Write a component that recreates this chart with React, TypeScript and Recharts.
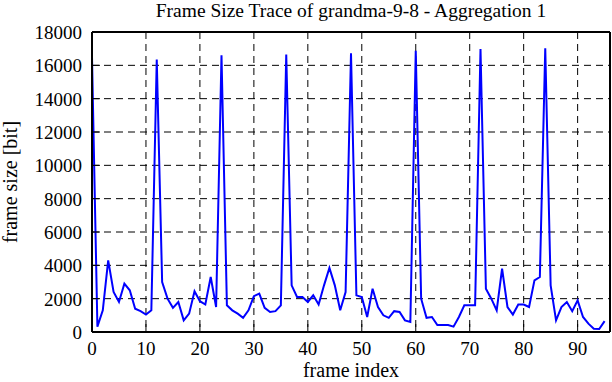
import { LineChart, Line, XAxis, YAxis, CartesianGrid } from 'recharts';

// --- Data ---
const frames: number[] = Array.from({ length: 96 }, (_, i) => i);

const frameSizes: number[] = [
  16500, 320, 1300, 4300, 2400, 1800, 2900, 2500, 1400, 1250,
  1050, 1300, 16350, 3000, 2000, 1450, 1800, 700, 1100, 2450,
  1850, 1650, 3300, 1500, 16600, 1600, 1300, 1100, 850, 1300,
  2150, 2300, 1450, 1200, 1250, 1600, 16650, 2800, 2100, 2100,
  1800, 2200, 1650, 2800, 3850, 2800, 1300, 2400, 16720, 2200,
  2100, 900, 2600, 1500, 1000, 850, 1250, 1200, 700, 600,
  16880, 2000, 850, 900, 420, 420, 420, 320, 900, 1600,
  1600, 1600, 16980, 2600, 2000, 1300, 3800, 1500, 1050, 1650,
  1650, 1500, 3100, 3300, 17020, 2800, 700, 1500, 1800, 1250,
  1900, 900, 500, 200, 180, 650,
];

const xTicks = [0, 10, 20, 30, 40, 50, 60, 70, 80, 90];
const yTicks = [0, 2000, 4000, 6000, 8000, 10000, 12000, 14000, 16000, 18000];

const title = 'Frame Size Trace of grandma-9-8 - Aggregation 1';

const data = frames.map((f, i) => ({ frame: f, size: frameSizes[i] }));

const FONT = '"Liberation Serif", "Times New Roman", serif';
const axisLine = { stroke: '#000', strokeWidth: 2 };
const tickLine = { stroke: '#000', strokeWidth: 1 };

// serif tick labels (the default tick text falls back to sans)
function BottomTick({ x, y, payload }: any) {
  return (
    <text x={x} y={y} dy="0.71em" textAnchor="middle" fill="#000" fontSize={19} fontFamily={FONT}>
      {payload.value}
    </text>
  );
}

function LeftTick({ x, y, payload }: any) {
  return (
    <text x={x} y={y} dy="0.36em" textAnchor="end" fill="#000" fontSize={19} fontFamily={FONT}>
      {payload.value}
    </text>
  );
}

export default function App() {
  return (
    <div style={{ position: 'absolute', left: 0, top: 0, width: 612, height: 382, background: '#fff' }}>
      <LineChart width={612} height={382} data={data} margin={{ top: 0, right: 0, bottom: 0, left: 0 }}>
        <CartesianGrid stroke="#000" strokeDasharray="7 5" strokeWidth={1} />
        <XAxis
          dataKey="frame"
          type="number"
          domain={[0, 96]}
          ticks={xTicks}
          height={50}
          tickSize={-8}
          tickMargin={18}
          axisLine={axisLine}
          tickLine={tickLine}
          tick={<BottomTick />}
          label={{ value: 'frame index', position: 'insideBottom', offset: 5, fill: '#000', fontSize: 20, fontFamily: FONT }}
        />
        <XAxis
          xAxisId="top"
          orientation="top"
          dataKey="frame"
          type="number"
          domain={[0, 96]}
          ticks={xTicks}
          height={32}
          tickSize={-8}
          axisLine={axisLine}
          tickLine={tickLine}
          tick={false}
          label={{ value: title, position: 'insideTop', offset: 3.5, fill: '#000', fontSize: 19.5, fontFamily: FONT }}
        />
        <YAxis
          type="number"
          domain={[0, 18000]}
          ticks={yTicks}
          width={92}
          tickSize={-8}
          tickMargin={18}
          axisLine={axisLine}
          tickLine={tickLine}
          tick={<LeftTick />}
          label={{ value: 'frame size [bit]', angle: -90, position: 'center', dx: -36, fill: '#000', fontSize: 20, fontFamily: FONT }}
        />
        <YAxis
          yAxisId="right"
          orientation="right"
          type="number"
          domain={[0, 18000]}
          ticks={yTicks}
          width={2}
          tickSize={-8}
          axisLine={axisLine}
          tickLine={tickLine}
          tick={false}
        />
        <Line
          type="linear"
          dataKey="size"
          stroke="#0000ff"
          strokeWidth={2}
          dot={false}
          isAnimationActive={false}
        />
      </LineChart>
    </div>
  );
}
